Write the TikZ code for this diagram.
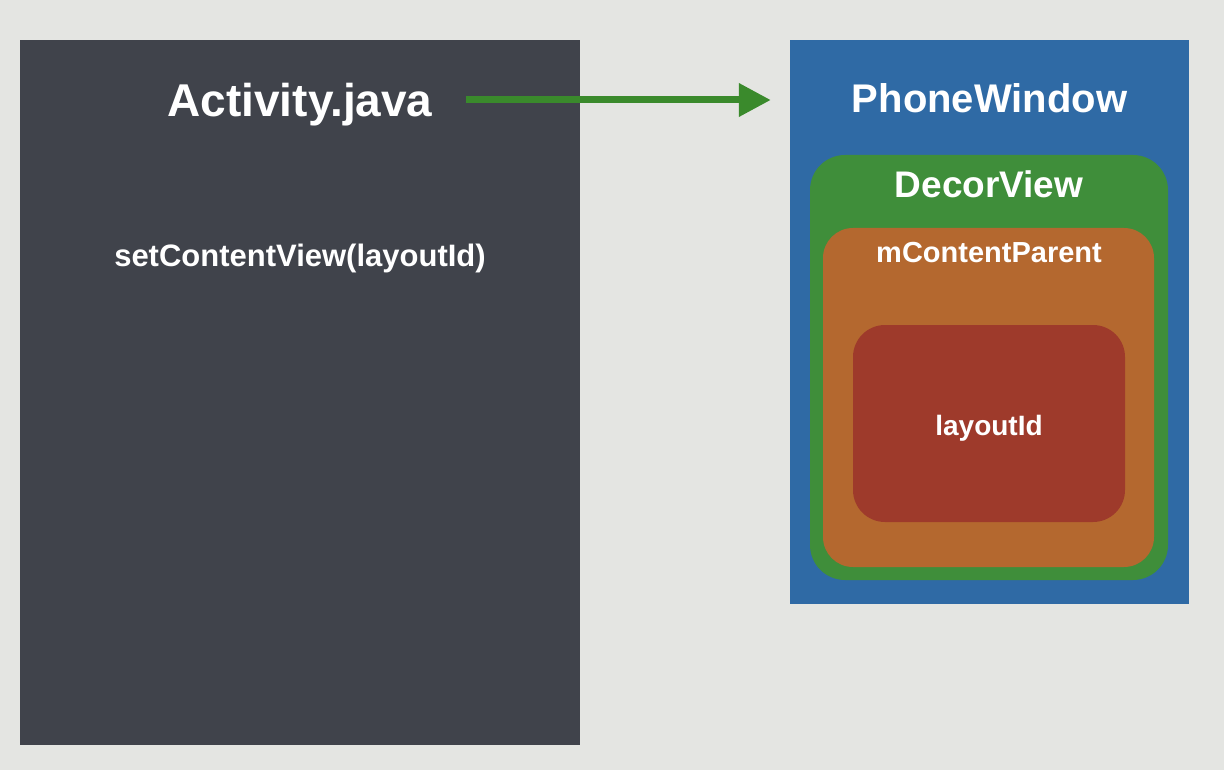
\documentclass[tikz,border=0pt]{standalone}
\usepackage{fontspec}
\setmainfont{Liberation Sans}
\usetikzlibrary{arrows.meta}
\definecolor{paper}{RGB}{228,229,226}
\definecolor{slate}{RGB}{64,67,75}
\definecolor{winblue}{RGB}{47,106,165}
\definecolor{decorgreen}{RGB}{63,142,58}
\definecolor{parentorange}{RGB}{180,104,47}
\definecolor{layoutred}{RGB}{158,58,43}
\definecolor{arrowgreen}{RGB}{58,138,44}
\begin{document}
\begin{tikzpicture}[x=1pt,y=-1pt,
    panel/.style={draw=none,inner sep=0pt},
    label/.style={text=white,font=\bfseries,inner sep=0pt,anchor=base},
    flow/.style={draw=arrowgreen,line width=7pt,
      -{Triangle[length=32pt,width=32pt]}}]
  \fill[paper] (0,0) rectangle (1224,770);
  \useasboundingbox (0,0) rectangle (1224,770);
  % left: the activity
  \node[panel,fill=slate,minimum width=560pt,minimum height=705pt]
    (activity) at (300,392.5) {};
  \node[label,font=\bfseries\fontsize{46}{50}\selectfont]
    (acttitle) at (300,117) {Activity.java};
  \node[label,font=\bfseries\fontsize{31}{36}\selectfont]
    (setview) at (300,267) {setContentView(layoutId)};
  % right: the window and its views
  \node[panel,fill=winblue,minimum width=399pt,minimum height=564pt]
    (phone) at (989.5,322) {};
  \node[panel,fill=decorgreen,rounded corners=35pt,
    minimum width=358pt,minimum height=425pt]
    (decor) at (989,367.5) {};
  \node[panel,fill=parentorange,rounded corners=30pt,
    minimum width=331pt,minimum height=339pt]
    (content) at (988.5,397.5) {};
  \node[panel,fill=layoutred,rounded corners=32pt,
    minimum width=272pt,minimum height=197pt]
    (layout) at (989,423.5) {};
  \node[label,font=\bfseries\fontsize{40}{46}\selectfont]
    (phonetitle) at (989.5,113) {PhoneWindow};
  \node[label,font=\bfseries\fontsize{37}{42}\selectfont]
    (decortitle) at (989,198) {DecorView};
  \node[label,font=\bfseries\fontsize{29}{34}\selectfont]
    (contenttitle) at (989,263) {mContentParent};
  \node[label,font=\bfseries\fontsize{28}{32}\selectfont]
    (layouttitle) at (989,435) {layoutId};
  % the arrow
  \coordinate (arrowy) at (0,100);
  \draw[flow,shorten <=33pt,shorten >=19pt]
    (acttitle.east |- arrowy) -- (phone.west |- arrowy);
\end{tikzpicture}
\end{document}
